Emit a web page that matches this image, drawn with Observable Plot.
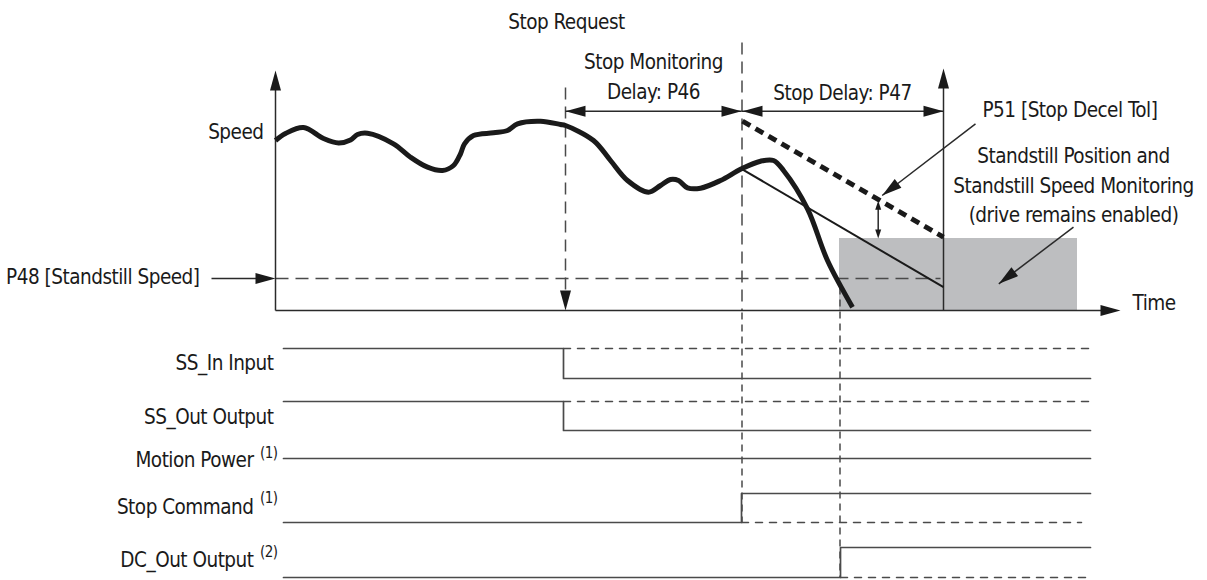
<!DOCTYPE html>
<html><head><meta charset="utf-8">
<script src="https://cdn.jsdelivr.net/npm/d3@7"></script>
<script src="https://cdn.jsdelivr.net/npm/@observablehq/plot@0.6"></script>
<style>
html,body{margin:0;padding:0;background:#fff;}
#chart svg{display:block;}
</style></head><body><div id="chart"></div>
<script>
// ---- Data (time units along the Time axis, value units along the Speed axis) ----
// Speed trace samples
const speedTime  = [0, 10, 28, 48, 63, 75, 82, 92, 118, 135, 152, 167, 178, 185, 189, 198, 218, 232, 242, 265, 285, 290, 318, 335, 352, 373, 385, 395, 403, 412, 425, 445, 466, 485, 498, 508, 532, 552, 577];
const speedValue = [170, 177, 183, 172, 167.5, 170.5, 176, 177.3, 166.7, 153.3, 143.3, 140, 145, 156.7, 166.7, 175, 177.7, 180, 186.7, 189.3, 186, 185, 170, 150, 130, 118.3, 125, 131, 130, 122.7, 122.3, 130, 141.7, 149.3, 150, 140, 101.7, 50, 3.3];
// Key events on the time axis
const stopRequestT   = 290;
const monitorEndT    = 466;
const standstillT    = 565;
const stopDelayEndT  = 668;
const timeAxisEnd    = 845;
const speedAxisEnd   = 240;
// Speed thresholds
const standstillSpeed = 32;
const decelTolSpeed   = [189.3, 73.3];   // tolerance line at monitorEnd / stopDelayEnd
const decelRampSpeed  = [141.7, 23.3];   // commanded ramp at monitorEnd / stopDelayEnd
const standstillBoxEnd = 802, standstillBoxTop = 72;
// Digital signals
const signalNames  = ["SS_In Input", "SS_Out Output", "Motion Power", "Stop Command", "DC_Out Output"];
const signalNotes  = ["", "", "(1)", "(1)", "(2)"];
const signalHigh   = [-38, -91, -148, -183, -237];
const signalLow    = [-68, -120, -148, -212, -267];
const signalLabelV = [-52.5, -107, -150, -197, -250];
const signalStartHigh = [true, true, true, false, false];
const signalSwitchT   = [288, 288, null, 466, 565];
const signalStartT = 8, signalEndT = 815;

// ---- Helpers ----
const FONT = "'DejaVu Sans Condensed','Liberation Sans Narrow','Arial Narrow',sans-serif";
const INK = "#1a1a1a", GREY = "#4a4a4a";
const FS = 20.5;
const head = (w) => ({draw(ctx, l) { ctx.moveTo(0, 0); ctx.lineTo(-w, l); ctx.lineTo(w, l); ctx.closePath(); }});
const angle = (a, b) => Math.atan2(b[0] - a[0], b[1] - a[1]) * 180 / Math.PI;
const seg = (x1, y1, x2, y2) => ({x1, y1, x2, y2});
const L = {x1: "x1", y1: "y1", x2: "x2", y2: "y2"};

const speed = speedTime.map((t, i) => ({t, v: speedValue[i]}));

// annotation arrows (from, to tip)
const p51From = [700, 186.7], p51To = [606.7, 115];
const ssFrom = [798, 83.3], ssTo = [723.3, 26.7];
const tolT = 602.7;
const dimV = 199.3;
const tolV = decelTolSpeed[0] - (tolT - monitorEndT) * (decelTolSpeed[0] - decelTolSpeed[1]) / (stopDelayEndT - monitorEndT);

const heads = [
  {t: 0, v: speedAxisEnd, a: 0},
  {t: timeAxisEnd, v: 0, a: 90},
  {t: stopRequestT, v: 0, a: 180},
  {t: stopRequestT, v: dimV, a: -90},
  {t: monitorEndT, v: dimV, a: 90},
  {t: monitorEndT + 1, v: dimV, a: -90},
  {t: stopDelayEndT, v: dimV, a: 90},
  {t: stopDelayEndT, v: speedAxisEnd + 2, a: 0},
  {t: 0, v: standstillSpeed, a: 90},
  {t: p51To[0], v: p51To[1], a: angle(p51From, p51To)},
  {t: ssTo[0], v: ssTo[1], a: angle(ssFrom, ssTo)}
];
const smallHeads = [
  {t: tolT, v: tolV - 1, a: 0},
  {t: tolT, v: standstillBoxTop, a: 180}
];

const solidThin = [
  seg(0, 0, 0, speedAxisEnd - 10),
  seg(0, 0, timeAxisEnd - 10, 0),
  seg(stopDelayEndT, 0, stopDelayEndT, speedAxisEnd - 8),
  seg(stopRequestT, dimV, monitorEndT, dimV),
  seg(monitorEndT, dimV, stopDelayEndT, dimV),
  seg(-64, standstillSpeed, -10, standstillSpeed),
  seg(p51From[0], p51From[1], p51To[0], p51To[1]),
  seg(ssFrom[0], ssFrom[1], ssTo[0], ssTo[1]),
  seg(tolT, tolV - 5, tolT, standstillBoxTop + 4)
];

const signalSolid = [], signalDashed = [];
signalNames.forEach((name, i) => {
  const sw = signalSwitchT[i];
  const a = signalStartHigh[i] ? signalHigh[i] : signalLow[i];
  const b = signalStartHigh[i] ? signalLow[i] : signalHigh[i];
  if (sw == null) {
    signalSolid.push({id: i, t: signalStartT, v: a}, {id: i, t: signalEndT, v: a});
  } else {
    signalSolid.push({id: i, t: signalStartT, v: a}, {id: i, t: sw, v: a}, {id: i, t: sw, v: b}, {id: i, t: signalEndT, v: b});
    signalDashed.push({id: i, t: sw, v: a}, {id: i, t: i === 3 ? signalEndT - 9 : signalEndT, v: a});
  }
});

const labelsMiddle = [
  {t: stopRequestT + 1, v: 291, s: "Stop Request"},
  {t: (stopRequestT + monitorEndT) / 2, v: 236, s: "Stop Monitoring\nDelay: P46"},
  {t: (monitorEndT + stopDelayEndT) / 2, v: 220, s: "Stop Delay: P47"},
  {t: 798, v: 127.5, s: "Standstill Position and\nStandstill Speed Monitoring\n(drive remains enabled)"}
];
const labelsStart = [
  {t: 707, v: 200, s: "P51 [Stop Decel Tol]"},
  {t: 857, v: 7, s: "Time"}
];
const labelsEnd = [
  {t: -12, v: 178, s: "Speed"},
  {t: -76, v: 33, s: "P48 [Standstill Speed]"},
  ...signalNames.map((s, i) => ({t: signalNotes[i] ? -22 : -2, v: signalLabelV[i], s}))
];
const noteV = [0, 0, -143, -188, -241.5];
const notes = signalNames.map((n, i) => ({t: 2, v: noteV[i], s: signalNotes[i]})).filter(d => d.s);

const chart = Plot.plot({
  width: 1207, height: 580, margin: 0,
  x: {domain: [-275, 932], range: [0, 1207], axis: null},
  y: {domain: [310, -270], range: [0, 580], axis: null},
  style: {fontFamily: FONT, fontSize: FS + "px", color: INK, background: "#fff", letterSpacing: "-0.5px"},
  marks: [
    Plot.rect([{}], {x1: standstillT - 1, x2: standstillBoxEnd, y1: 0, y2: standstillBoxTop, fill: "#bdbec0"}),
    // dashed guides
    Plot.link([seg(0, standstillSpeed, stopDelayEndT - 3, standstillSpeed)], {...L, stroke: GREY, strokeWidth: 1.5, strokeDasharray: "13,7"}),
    Plot.link([seg(stopRequestT, 223, stopRequestT, 10), seg(monitorEndT + 0.5, 268, monitorEndT + 0.5, 0)], {...L, stroke: GREY, strokeWidth: 1.5, strokeDasharray: "12,7"}),
    Plot.link([seg(monitorEndT + 0.5, -2, monitorEndT + 0.5, signalLow[3]), seg(standstillT - 0.5, 23, standstillT - 0.5, signalLow[4])], {...L, stroke: GREY, strokeWidth: 1.5, strokeDasharray: "7,5"}),
    // signals
    Plot.line(signalDashed, {x: "t", y: "v", z: "id", stroke: GREY, strokeWidth: 1.5, strokeDasharray: "7,7"}),
    Plot.line(signalSolid, {x: "t", y: "v", z: "id", stroke: GREY, strokeWidth: 1.7}),
    // thin lines
    Plot.link(solidThin, {...L, stroke: "#2a2a2a", strokeWidth: 1.5}),
    Plot.link([seg(monitorEndT, decelRampSpeed[0], stopDelayEndT, decelRampSpeed[1])], {...L, stroke: INK, strokeWidth: 2}),
    Plot.link([seg(monitorEndT + 1, decelTolSpeed[0], stopDelayEndT, decelTolSpeed[1])], {...L, stroke: INK, strokeWidth: 5, strokeDasharray: "9,6"}),
    // speed trace
    Plot.line(speed, {x: "t", y: "v", curve: "catmull-rom", stroke: INK, strokeWidth: 5, strokeLinecap: "butt"}),
    // arrow heads
    Plot.vector(heads, {x: "t", y: "v", rotate: "a", length: 20, anchor: "start", shape: head(5.5), fill: INK, stroke: "none"}),
    Plot.vector(smallHeads, {x: "t", y: "v", rotate: "a", length: 9, anchor: "start", shape: head(3), fill: INK, stroke: "none"}),
    // text
    Plot.text(labelsMiddle, {x: "t", y: "v", text: "s", textAnchor: "middle", lineHeight: 1.45, fill: INK}),
    Plot.text(labelsStart, {x: "t", y: "v", text: "s", textAnchor: "start", fill: INK}),
    Plot.text(labelsEnd, {x: "t", y: "v", text: "s", textAnchor: "end", fill: INK}),
    Plot.text(notes, {x: "t", y: "v", text: "s", textAnchor: "end", fontSize: 15, fill: INK})
  ]
});
document.getElementById("chart").appendChild(chart);
</script></body></html>
